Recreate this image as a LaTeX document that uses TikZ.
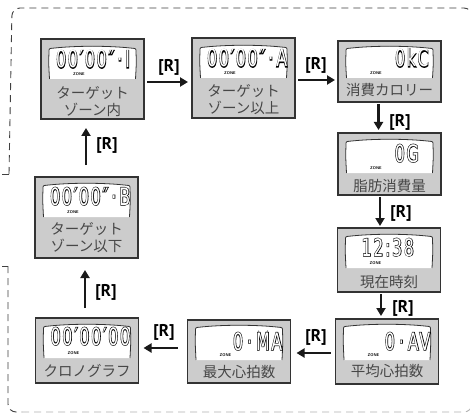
\documentclass[tikz,border=0pt]{standalone}
\usepackage{fontspec}
\usetikzlibrary{arrows.meta,calc}
\newfontfamily\jp{Noto Sans CJK JP}
\newfontfamily\rfont{PT Sans}
\newfontfamily\lcdfont[FakeStretch=0.66,LetterSpace=7]{DejaVu Sans}
\newfontfamily\lcdbold[FakeStretch=0.66,LetterSpace=7,FakeBold=4.5]{DejaVu Sans}
\newcommand\outl[1]{\makebox[0pt][l]{\lcdbold\color{black}#1}{\lcdfont\color{white}#1}}
% #1 box name, #2 display top, #3 display bottom, #4 digit anchor, #5 digit pos, #6 digits, #7 label y, #8 label
\newcommand\panel[8]{%
 \begin{scope}[shift={(#1.north west)}]
  \fill[white] (8.5,#3) .. controls (7.6,#2+16) .. (8,#2+5) .. controls (8,#2+1.5) .. (12,#2+1.2)
     .. controls (35,#2-1.4) and (68,#2-1.4) .. (91,#2+1.2) .. controls (95,#2+1.5) .. (95,#2+5)
     .. controls (95.4,#2+16) .. (94.5,#3) -- cycle;
  \draw[lcdl] (8.5,#3) .. controls (7.6,#2+16) .. (8,#2+5) .. controls (8,#2+1.5) .. (12,#2+1.2)
     .. controls (35,#2-1.4) and (68,#2-1.4) .. (91,#2+1.2) .. controls (95,#2+1.5) .. (95,#2+5)
     .. controls (95.4,#2+16) .. (94.5,#3);
  \node[digit,#4] (#1d) at (#5) {\outl{#6}};
  \node[zone] (#1z) at (38,#3-4.5) {ZONE};
  \node[lbl] (#1l) at (51.5,#7) {#8};
 \end{scope}}
\begin{document}
\begin{tikzpicture}[x=1pt,y=-1pt,
 box/.style={draw=black!80, line width=1.1pt, fill=black!20, minimum width=103pt, inner sep=0pt, outer sep=0pt},
 lbl/.style={font=\jp\fontsize{14.5}{17}\selectfont, text=black!72, align=center, inner sep=0pt},
 digit/.style={font=\lcdfont\fontsize{24}{24}\selectfont, inner sep=0pt},
 zone/.style={font=\sffamily\bfseries\fontsize{4}{4}\selectfont, inner sep=0pt},
 rlab/.style={font=\rfont\bfseries\fontsize{17}{17}\selectfont, inner sep=0pt},
 arr/.style={line width=2.4pt, -{Triangle[length=8pt,width=9pt]}, black!90},
 bord/.style={line width=0.9pt, black!75, dash pattern=on 7pt off 5pt},
 bordl/.style={line width=0.9pt, black!30, dash pattern=on 7pt off 5pt},
 lcdl/.style={line width=0.8pt, black!80}]
\fill[white] (0,0) rectangle (470,414);
\useasboundingbox (0,0) rectangle (470,414);
% dashed frame
\draw[bord] (2,174) -- (9,174);
\draw[bord, rounded corners=8pt] (9,174) -- (12,8) -- (472,8) -- (472,120);
\draw[bord] (2,266) -- (8,266);
\draw[bord, rounded corners=8pt] (8,266) -- (8,412) -- (22,412);
\draw[bordl, rounded corners=8pt] (22,412) -- (472,412) -- (472,380);
% boxes
\node[box, minimum height=80pt] (b1) at (92.5,79) {};
\node[box, minimum height=80pt] (b2) at (243.5,78) {};
\node[box, minimum height=61pt] (b3) at (389.5,71.5) {};
\node[box, minimum height=62pt] (b4) at (389.5,164) {};
\node[box, minimum height=64pt] (b5) at (389,260) {};
\node[box, minimum height=65pt] (b6) at (387,351.5) {};
\node[box, minimum height=63pt] (b7) at (239,351.5) {};
\node[box, minimum height=65pt] (b8) at (87,350.5) {};
\node[box, minimum height=81pt] (b9) at (86.5,217.5) {};
\panel{b1}{8}{40}{anchor=base west}{15,29}{00′00″\hspace{3pt}·\hspace{3pt}I}{62.5}{ターゲット\\ゾーン内}
\panel{b2}{8}{40}{anchor=base west}{15,29}{00′00″\hspace{3pt}·\hspace{3pt}A}{62}{ターゲット\\ゾーン以上}
\panel{b3}{6}{37}{anchor=base east}{91,26}{0kC}{49}{消費カロリー}
\panel{b4}{7}{40}{anchor=base east}{81,29}{0G}{53}{脂肪消費量}
\panel{b5}{7}{40}{anchor=base west}{24,28}{12:38}{54}{現在時刻}
\panel{b6}{6}{41}{anchor=base east}{95,31}{0\hspace{4pt}·\hspace{4pt}AV}{52}{平均心拍数}
\panel{b7}{6}{40}{anchor=base east}{95,30}{0\hspace{4pt}·\hspace{4pt}MA}{52}{最大心拍数}
\panel{b8}{7}{40}{anchor=base west}{15,27}{00′00′00}{53}{クロノグラフ}
\panel{b9}{7}{40}{anchor=base west}{15,28}{00′00″\hspace{3pt}·\hspace{3pt}B}{61}{ターゲット\\ゾーン以下}
% arrows
\draw[arr] ($(b1.east)+(3,3)$) -- ($(b1.east -| b2.west)+(-4,3)$);
\draw[arr] ($(b2.east)+(3,2)$) -- ($(b2.east -| b3.west)+(-3,2)$);
\draw[arr] ($(b3.south)+(-11,2)$) -- ($(b3.south |- b4.north)+(-11,-3)$);
\draw[arr] ($(b4.south)+(-9.5,2)$) -- ($(b4.south |- b5.north)+(-9.5,-2)$);
\draw[arr] ($(b5.south)+(-8,2)$) -- ($(b5.south |- b6.north)+(-8,-3)$);
\draw[arr] ($(b6.west)+(-5,1.5)$) -- ($(b6.west -| b7.east)+(6,1.5)$);
\draw[arr] ($(b7.west)+(-10,-3.5)$) -- ($(b7.west -| b8.east)+(5,-3.5)$);
\draw[arr] ($(b8.north)+(-2,-10)$) -- ($(b8.north |- b9.south)+(-2,12)$);
\draw[arr] ($(b9.north)+(-0.5,-12)$) -- ($(b9.north |- b1.south)+(-0.5,9)$);
% [R] labels
\node[rlab] (r12) at (169,67) {[R]};
\node[rlab] (r23) at (316,65) {[R]};
\node[rlab] (r34) at (400,122) {[R]};
\node[rlab] (r45) at (401,213) {[R]};
\node[rlab] (r56) at (403,308) {[R]};
\node[rlab] (r67) at (316,337) {[R]};
\node[rlab] (r78) at (164,332) {[R]};
\node[rlab] (r89) at (106,292) {[R]};
\node[rlab] (r91) at (107,145) {[R]};
\end{tikzpicture}
\end{document}
